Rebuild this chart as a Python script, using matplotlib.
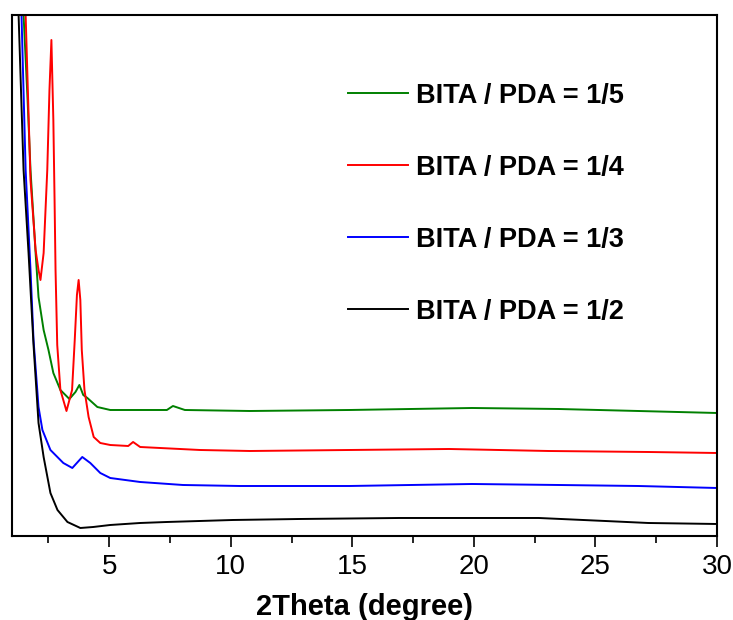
import matplotlib
matplotlib.use("Agg")
from matplotlib import pyplot as plt
from matplotlib.ticker import MultipleLocator

# values (2theta in degree, intensity in a.u.)
x_12 = [1.0, 1.27, 1.475, 1.68, 1.885, 2.09, 2.30, 2.58, 2.87, 3.28, 3.81, 4.34,
        5.04, 6.27, 7.37, 10.08, 12.83, 16.92, 19.92, 22.67, 25.4, 27.17, 30.0]
y_12 = [700, 521, 366, 283, 191, 113, 79, 43, 26, 14, 8, 9,
        11, 13, 14, 16, 17, 18, 18, 18, 15, 13, 12]

x_13 = [1.0, 1.39, 1.56, 1.76, 1.885, 2.09, 2.25, 2.58, 3.11, 3.48, 3.89, 4.22,
        4.63, 5.04, 6.27, 8.03, 10.37, 14.88, 19.92, 23.48, 26.76, 30.0]
y_13 = [820, 521, 366, 266, 196, 129, 106, 86, 73, 68, 79, 73,
        63, 58, 54, 51, 50, 50, 52, 51, 50, 48]

x_14 = [1.0, 1.56, 1.76, 1.97, 2.09, 2.17, 2.30, 2.45, 2.54, 2.62, 2.70, 2.75,
        2.79, 2.86, 2.99, 3.24, 3.47, 3.58, 3.67, 3.74, 3.81, 3.87, 3.98, 4.15,
        4.36, 4.63, 5.04, 5.78, 5.98, 6.27, 8.73, 10.78, 14.88, 18.98, 23.07,
        27.17, 30.0]
y_14 = [950, 521, 356, 286, 266, 256, 283, 366, 446, 496, 416, 336,
        266, 191, 146, 125, 146, 196, 241, 256, 236, 186, 146, 119,
        99, 93, 91, 90, 94, 89, 86, 85, 86, 87, 85,
        84, 83]

x_15 = [1.0, 1.475, 1.64, 1.76, 1.97, 2.09, 2.30, 2.50, 2.70, 2.99, 3.36, 3.61,
        3.77, 3.93, 4.10, 4.51, 5.04, 6.27, 7.37, 7.62, 8.11, 10.78, 14.88,
        19.92, 23.48, 26.76, 30.0]
y_15 = [780, 521, 436, 366, 283, 239, 206, 186, 163, 146, 137, 144,
        151, 141, 138, 129, 126, 126, 126, 130, 126, 125, 126,
        128, 127, 125, 123]

labels = ["BITA / PDA = 1/5", "BITA / PDA = 1/4", "BITA / PDA = 1/3", "BITA / PDA = 1/2"]
colors = ["#008000", "#ff0000", "#0000ff", "#000000"]

plt.rcParams['font.family'] = ['Liberation Sans', 'DejaVu Sans']

fig = plt.figure(figsize=(7.33, 6.2), dpi=100)
ax = fig.add_axes([0.0164, 0.1355, 0.9618, 0.8403])

series = [(x_15, y_15), (x_14, y_14), (x_13, y_13), (x_12, y_12)]
for (xs, ys), lab, c in zip(series, labels, colors):
  ax.plot(xs, ys, color=c, lw=1.4, label=lab)

ax.set_xlim(1, 30)
ax.set_ylim(0, 521)
ax.set_yticks([])
ax.set_xticks([5, 10, 15, 20, 25, 30])
ax.xaxis.set_minor_locator(MultipleLocator(2.5))
ax.tick_params(axis='x', which='major', direction='out', length=8, width=1.2,
               labelsize=20, pad=5)
ax.tick_params(axis='x', which='minor', direction='out', length=5, width=1.2)
for sp in ax.spines.values():
  sp.set_linewidth(1.5)

ax.set_xlabel("2Theta (degree)", fontsize=21, fontweight='bold', labelpad=9)

ax.legend(loc='upper left', bbox_to_anchor=(0.477, 0.87), frameon=False,
          prop={'weight': 'bold', 'size': 19.5}, handlelength=2.2,
          handletextpad=0.3, labelspacing=1.7, borderpad=0, borderaxespad=0)

fig.savefig("out.png", dpi=100)
